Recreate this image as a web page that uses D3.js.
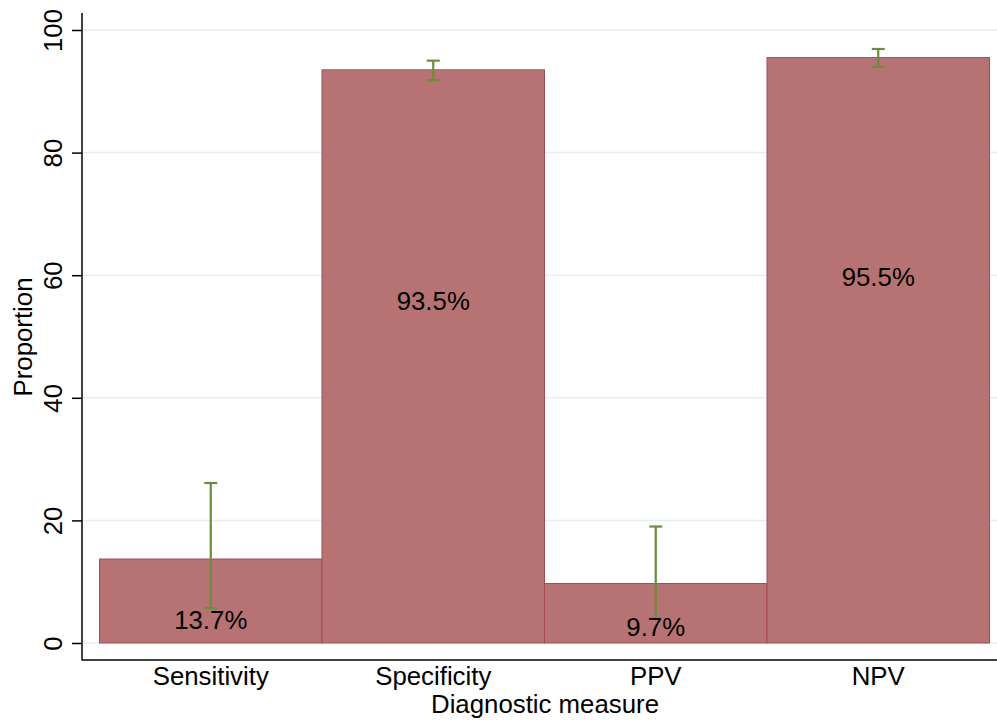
<!DOCTYPE html>
<html>
<head>
<meta charset="utf-8">
<script src="https://cdn.jsdelivr.net/npm/d3@7"></script>
<style>
  body { margin: 0; background: #fff; }
  svg text { font-family: Helvetica, "Liberation Sans", Arial, sans-serif; fill: #000; }
</style>
</head>
<body>
<div id="chart"></div>
<script>
var categories = ['Sensitivity', 'Specificity', 'PPV', 'NPV'];
var values = [13.7, 93.5, 9.7, 95.5];
var ciLow = [5.7, 91.8, 4.0, 94.0];
var ciHigh = [26.1, 95.0, 19.0, 96.9];
var labels = ['13.7%', '93.5%', '9.7%', '95.5%'];
var labelAt = [3.7, 55.8, 2.6, 59.7];
var yTicks = [0, 20, 40, 60, 80, 100];

var w = 997, h = 725;
var axisX = 82, axisY = 660;
var fs = '25.8px';

var svg = d3.select('#chart').append('svg')
  .attr('width', w).attr('height', h);

var x = d3.scaleBand().domain(categories).range([99.5, 989.5]).padding(0);
var y = d3.scaleLinear().domain([0, 100]).range([643, 30]);

// grid
svg.append('g').selectAll('line')
  .data(yTicks)
  .enter().append('line')
  .attr('x1', axisX + 1).attr('x2', w)
  .attr('y1', function(d) { return y(d); })
  .attr('y2', function(d) { return y(d); })
  .attr('stroke', '#e6efef')
  .attr('stroke-width', 1.5);

// bars
svg.append('g').selectAll('rect')
  .data(values)
  .enter().append('rect')
  .attr('x', function(d, i) { return x(categories[i]); })
  .attr('y', function(d) { return y(d); })
  .attr('width', x.bandwidth())
  .attr('height', function(d) { return y(0) - y(d); })
  .attr('fill', '#b77373')
  .attr('stroke', '#a44c54')
  .attr('stroke-width', 1);

// error bars
var eb = svg.append('g').attr('stroke', '#6b8c3e').attr('stroke-width', 2.2);
categories.forEach(function(c, i) {
  var cx = x(c) + x.bandwidth() / 2;
  eb.append('line').attr('x1', cx).attr('x2', cx)
    .attr('y1', y(ciLow[i])).attr('y2', y(ciHigh[i]));
  [ciLow[i], ciHigh[i]].forEach(function(v) {
    eb.append('line').attr('x1', cx - 6.5).attr('x2', cx + 6.5)
      .attr('y1', y(v)).attr('y2', y(v));
  });
});

// bar labels
svg.append('g').selectAll('text')
  .data(labels)
  .enter().append('text')
  .text(function(d) { return d; })
  .attr('x', function(d, i) { return x(categories[i]) + x.bandwidth() / 2; })
  .attr('y', function(d, i) { return y(labelAt[i]); })
  .attr('dy', '0.35em')
  .attr('text-anchor', 'middle')
  .attr('font-size', fs);

// y axis
var yAxis = svg.append('g')
  .attr('transform', 'translate(' + axisX + ',0)')
  .call(d3.axisLeft(y).tickValues(yTicks).tickSize(10).tickFormat(d3.format('d')));
yAxis.select('.domain').remove();
yAxis.selectAll('.tick line').attr('stroke', '#000').attr('stroke-width', 1.5);
yAxis.selectAll('.tick text')
  .attr('transform', 'rotate(-90)')
  .attr('x', 0).attr('y', -20).attr('dy', 0)
  .attr('text-anchor', 'middle')
  .attr('font-size', fs);
svg.append('line')
  .attr('x1', axisX).attr('x2', axisX).attr('y1', 13).attr('y2', axisY + 0.5)
  .attr('stroke', '#000').attr('stroke-width', 1.5);

// x axis
var xAxis = svg.append('g')
  .attr('transform', 'translate(0,' + axisY + ')')
  .call(d3.axisBottom(x).tickSize(0));
xAxis.select('.domain').remove();
xAxis.selectAll('.tick text')
  .attr('y', 25).attr('dy', 0)
  .attr('font-size', fs);
svg.append('line')
  .attr('x1', axisX).attr('x2', w).attr('y1', axisY).attr('y2', axisY)
  .attr('stroke', '#000').attr('stroke-width', 1.5);

// titles
svg.append('text')
  .text('Diagnostic measure')
  .attr('x', 545).attr('y', 713)
  .attr('text-anchor', 'middle')
  .attr('font-size', fs);

svg.append('text')
  .text('Proportion')
  .attr('transform', 'translate(32,337) rotate(-90)')
  .attr('text-anchor', 'middle')
  .attr('font-size', fs);
</script>
</body>
</html>
